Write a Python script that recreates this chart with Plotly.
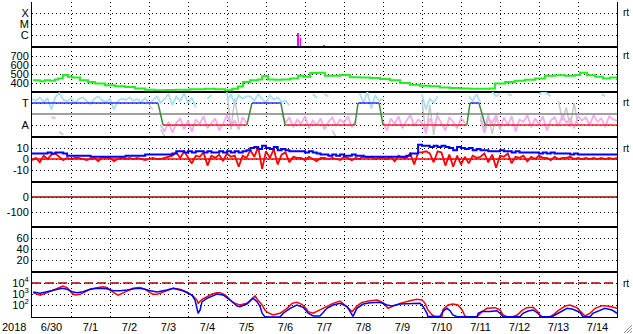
import plotly.graph_objects as go

# ---------------- data (x in days since 2018-06-30 00:00) ----------------
day_labels = ["6/30", "7/1", "7/2", "7/3", "7/4", "7/5", "7/6", "7/7",
              "7/8", "7/9", "7/10", "7/11", "7/12", "7/13", "7/14"]
year_label = "2018"

# X-ray flux level (C=1, M=2, X=3)
xray_t = [6.81, 6.84, 6.88, 7.18, 7.49, 7.90, 7.95, 8.10]
xray_lvl = [1.15, 1.15, 0.70, 0.02, 0.10, 0.03, 0.03, 0.03]

# solar wind speed
sw_t = [0.03, 0.21, 0.33, 0.46, 0.59, 0.67, 0.79, 0.92, 1.03, 1.23,
        1.44, 1.62, 1.87, 2.13, 2.38, 2.64, 2.90, 3.15, 3.41, 3.67,
        4.05, 4.44, 4.69, 4.95, 5.13, 5.28, 5.41, 5.59, 5.79, 5.90,
        6.05, 6.23, 6.41, 6.62, 6.82, 6.95, 7.13, 7.33, 7.51, 7.72,
        7.90, 8.15, 8.41, 8.67, 8.92, 9.18, 9.44, 9.69, 9.95, 10.21,
        10.46, 10.72, 10.97, 11.23, 11.49, 11.74, 11.87, 12.13, 12.38, 12.64,
        12.90, 13.15, 13.41, 13.67, 13.92, 14.05, 14.23, 14.44, 14.64, 14.82, 15.00]
sw_v = [430, 420, 430, 425, 440, 450, 490, 470, 460, 430,
        410, 395, 375, 365, 355, 340, 325, 320, 322, 325,
        330, 335, 330, 320, 335, 360, 410, 430, 440, 475,
        440, 435, 440, 450, 480, 470, 510, 515, 480, 480,
        490, 465, 460, 455, 445, 430, 400, 380, 370, 365,
        350, 345, 340, 335, 335, 340, 395, 410, 425, 435,
        450, 480, 485, 480, 490, 515, 485, 470, 450, 460, 430]

# 0.1-day sampled series
grid_t = [round(i * 0.1, 1) for i in range(151)]

# T/A panel (T=100, A=0)
lb = ([118, 110, 125, 105, 120, 70, 128, 145, 115, 108, 122, 100, 118, 126, 110, 95, 120, 130,
       112, 105, 118, 70, 108, 120, 114, 126, 110, 118, 104, 122, 96, 115, 130]
      + [100, 120, 140, 90, 130, 110, 145, 100, 125, 80, None, None, 120, 135, None, None, None,
         110, 140, 95, 135, 120, 130]
      + [130, 110, 140, 120, 100, 135, 115, 125, 105]
      + [110, 90, None, None, None, None, None, 140, 125, None, 140, 130, None, None, None, None,
         None, None, None]
      + [145, 100, 150, 75, 135, 110]
      + [120, None, None, None, None, None, None, None, None, None, 140, 70, 120, 100, 130, None,
         None, None, None, None, None, None]
      + [130, 110, 140, 100]
      + [None, None, 150, 130, 145, None, 140, 135, None, None, None, None, None, None, 140, 150,
         145, 130, None, None, None, None, None, None, None, None, None, None, None, None, 140, 130,
         None, None, None])
pk = ([None] * 5 + [36, 30] + [None] * 26
      + [0, -30, 15, -35, 10, 30, -20, 20, -30, 25, 5, 40, -15, 10, 30, -25, 5, 45, -5, 20, -20, 35, 10]
      + [None] * 9
      + [10, 35, -10, 25, 5, 40, -15, 20, 0, 30, -20, 15, 35, -5, 25, 10, 40, -10, 20]
      + [None] * 6
      + [15, -25, 30, 5, 40, -15, 20, 45, -5, 25, 10, -35, 30, -10, 40, 5, -25, 35, 15, -15, 30, 10]
      + [None, None, None, 25]
      + [-35, 30, 10, 45, -20, 35, 0, 40, -30, 25, 15, 45, -10, 30, 5, 40, -25, 20, 35, -5,
         45, 10, 30, -15, 40, 20, 35, 0, 45, 15, 30, -10, 40, 25, 20])
gy_t = [0.7, 0.8, None, 3.0, 3.1, None, 3.3, 3.4, None, 5.0, 5.1, 5.2, 5.3, None,
        6.4, 6.5, None, 7.7, 7.8, None, 10.0, 10.1, 10.2, 10.3, 10.4, None,
        11.5, 11.6, 11.7, 11.8, 11.9, 12.0, None, 13.5, 13.6, 13.7, 13.8, 13.9, 14.0]
gy_v = [-30, -45, None, 90, 70, None, -20, -50, None, 150, -20, 120, 10, None,
        55, 10, None, -25, -55, None, 110, -40, 90, -45, 60, None,
        40, -20, 50, -40, 30, -10, None, 110, 20, 80, -10, 100, 0]
state_t = [0, 3.23, 3.36, 5.51, 5.64, 6.38, 6.49, 8.28, 8.36, 8.90, 9.0, 11.15, 11.23, 11.46, 11.62, 15.0]
state_v = [100, 100, 0, 0, 100, 100, 0, 0, 100, 100, 0, 0, 100, 100, 0, 0]

# IMF Bz (red) and Bt (blue), nT
bz = ([-1, 1, -3, 3, 0, 4, 5, 2, -1, 1, 0, 1, 1, 0, -1, 0, 1, -2, 2, 1, 1, -2, 0, 1, 0, 1, 0, 1, 0, -1, 0, 1, 0]
      + [0, 1, 2, 3, 6, 1, 7, 2, -4, 3, 2, 6, -6, 3, 1, 4, -2, 5, 2, 3, -7, 3, 1]
      + [8, 2, 11, -9, 7, 1, 9, -5, 4]
      + [6, -3, 2, 1, 1, -1, 2, 0, -2, 1, 1, 0, 1, 0, -1, 2, 1, -1, 1]
      + [0, 3, 1, 2, 0, 1]
      + [1, 0, 2, -2, 3, 1, 1, 5, -5, 6, 6, 7, 5, -3, 7, 6, -6, 4, -7, 3, -5, 2]
      + [-4, 3, 1, 2, 5, -3, 4, -8, 3, 2, 5, -4, 2, 1, 3, -2, 2, 0, 3, 1,
         1, -1, 2, 0, 1, 1, 2, 0, 1, 0, 1, 0, 1, 0, 1, 0, 1, 0, 1])
bt = ([5, 5, 5, 5, 6, 5, 6, 6, 5, 3, 3, 3, 3, 3, 3, 2, 2, 2, 2, 2, 2, 2, 2, 2, 3, 3, 3, 3, 3, 4, 4, 4, 4]
      + [4, 4, 4, 5, 7, 7, 6, 7, 6, 7, 7, 6, 7, 6, 6, 7, 6, 7, 6, 7, 6, 7, 8]
      + [10, 11, 9, 12, 10, 9, 11, 8, 9]
      + [8, 7, 7, 7, 7, 6, 7, 6, 5, 4, 4, 3, 4, 3, 4, 3, 3, 4, 3]
      + [3, 2, 2, 2, 2, 2]
      + [2, 2, 2, 2, 2, 2, 3, 5, 5, 13, 12, 12, 11, 12, 11, 12, 11, 10, 8, 11, 10, 9]
      + [10, 8, 9, 8, 8, 7, 7, 7, 8, 7, 7, 6, 7, 6, 6, 6, 6, 6, 5, 6,
         5, 6, 5, 5, 5, 5, 4, 5, 4, 4, 4, 4, 4, 4, 4, 4, 4, 4, 4])

# electron flux (log10)
er_t = [0.03, 0.21, 0.38, 0.54, 0.72, 0.79, 0.90, 1.03, 1.10, 1.23,
        1.36, 1.49, 1.67, 1.82, 1.92, 2.00, 2.13, 2.21, 2.31, 2.44,
        2.59, 2.77, 2.90, 3.03, 3.10, 3.21, 3.33, 3.46, 3.62, 3.79,
        3.97, 4.13, 4.23, 4.26, 4.36, 4.49, 4.62, 4.74, 4.82, 4.95,
        5.03, 5.13, 5.21, 5.33, 5.51, 5.64, 5.72, 5.79, 5.90, 5.97,
        6.05, 6.18, 6.36, 6.54, 6.67, 6.79, 6.92, 7.05, 7.08, 7.21,
        7.38, 7.56, 7.72, 7.90, 7.97, 8.10, 8.21, 8.33, 8.46, 8.67,
        8.85, 9.00, 9.13, 9.26, 9.44, 9.69, 9.87, 10.00, 10.08, 10.15,
        10.26, 10.33, 10.51, 10.54, 10.67, 10.79, 10.92, 11.03, 11.10, 11.15,
        11.41, 11.54, 11.67, 11.87, 12.00, 12.08, 12.18, 12.33, 12.44, 12.56,
        12.69, 12.85, 12.97, 13.03, 13.10, 13.28, 13.36, 13.49, 13.67, 13.79,
        13.97, 14.10, 14.18, 14.31, 14.44, 14.62, 14.77, 14.90, 15.00]
er_v = [3.10, 2.90, 3.10, 3.36, 3.66, 3.73, 3.58, 3.06, 2.91, 2.97,
        3.20, 3.43, 3.57, 3.66, 3.60, 3.36, 3.06, 2.90, 3.06, 3.27,
        3.52, 3.58, 3.42, 3.12, 2.97, 2.97, 3.12, 3.30, 3.52, 3.43,
        3.20, 2.82, 2.45, 2.15, 2.52, 2.75, 3.00, 3.12, 3.12, 2.91,
        2.61, 2.30, 2.15, 2.00, 2.15, 2.52, 2.82, 2.45, 2.00, 1.55,
        1.30, 1.09, 1.25, 1.70, 2.15, 2.24, 2.06, 1.60, 1.40, 1.25,
        1.55, 1.90, 2.15, 2.36, 2.15, 1.70, 1.40, 1.90, 2.24, 2.39,
        2.45, 2.21, 1.70, 1.90, 2.15, 2.39, 2.52, 2.45, 2.15, 1.55,
        1.09, 0.95, 0.95, 1.60, 2.00, 2.10, 2.00, 1.55, 1.00, 0.93,
        0.93, 1.40, 1.70, 1.76, 1.55, 1.09, 0.93, 0.93, 1.09, 1.48,
        1.76, 1.79, 1.40, 0.95, 0.93, 0.93, 1.09, 1.48, 1.90, 2.00,
        1.76, 1.25, 1.00, 1.25, 1.70, 1.94, 1.90, 1.79, 1.70]
eb_t = [0.03, 0.21, 0.38, 0.64, 0.77, 0.90, 1.03, 1.15, 1.31, 1.49,
        1.67, 1.92, 2.08, 2.26, 2.44, 2.69, 2.85, 3.03, 3.21, 3.46,
        3.62, 3.87, 4.10, 4.18, 4.23, 4.26, 4.31, 4.36, 4.49, 4.74,
        4.90, 5.08, 5.26, 5.33, 5.51, 5.67, 5.77, 5.85, 5.90, 5.97,
        6.05, 6.36, 6.44, 6.62, 6.79, 6.95, 7.05, 7.08, 7.21, 7.38,
        7.46, 7.56, 7.72, 7.90, 8.08, 8.15, 8.23, 8.33, 8.49, 8.67,
        8.92, 9.10, 9.23, 9.44, 9.69, 9.95, 10.03, 10.13, 10.15, 10.46,
        10.54, 10.64, 10.72, 10.79, 10.90, 11.41, 11.44, 11.54, 11.74, 11.92,
        12.00, 12.08, 12.51, 12.59, 12.72, 12.85, 12.97, 13.08, 13.33, 13.41,
        13.54, 13.72, 13.87, 14.05, 14.13, 14.31, 14.38, 14.56, 14.69, 14.87, 15.00]
eb_v = [3.18, 3.06, 3.20, 3.43, 3.52, 3.43, 3.21, 3.12, 3.20, 3.43,
        3.52, 3.48, 3.30, 3.30, 3.36, 3.52, 3.48, 3.30, 3.18, 3.36,
        3.52, 3.30, 2.91, 2.45, 1.85, 1.25, 1.55, 2.30, 2.61, 3.00,
        2.91, 2.45, 1.90, 1.85, 2.09, 2.61, 2.30, 1.85, 1.25, 0.94,
        0.91, 0.91, 1.25, 1.70, 2.00, 1.79, 1.40, 1.25, 1.00, 1.00,
        1.30, 1.70, 2.00, 2.15, 1.85, 1.40, 0.97, 1.70, 2.09, 2.21,
        2.24, 2.00, 1.90, 2.09, 2.15, 2.15, 1.85, 1.25, 0.95, 0.95,
        1.45, 1.70, 1.48, 1.09, 0.93, 0.93, 1.25, 1.40, 1.40, 1.48,
        1.25, 0.93, 0.93, 1.25, 1.45, 1.55, 1.25, 0.93, 0.93, 1.09,
        1.40, 1.70, 1.61, 1.33, 0.93, 0.93, 1.25, 1.55, 1.70, 1.55, 1.25]

# ---------------- layout geometry ----------------
W, H = 633, 334
ML, MR, MT, MB = 32, 16, 2, 17
PH = 45
PLOT_H = H - MT - MB
FONT = "Liberation Sans, Arial, sans-serif"

def dom(k):
    top = MT + PH * k
    bot = top + PH
    return [(H - MB - bot) / PLOT_H, (H - MB - top) / PLOT_H]

panels = [
    dict(range=[-0.09, 4.0], tickvals=[1, 2, 3], ticktext=["C", "M", "X"]),
    dict(range=[300, 800], tickvals=[400, 500, 600, 700], ticktext=["400", "500", "600", "700"]),
    dict(range=[-54.5, 150], tickvals=[0, 100], ticktext=["A", "T"]),
    dict(range=[-20.9, 20], tickvals=[-10, 0, 10], ticktext=["-10", "0", "10"]),
    dict(range=[-200, 100], tickvals=[-100, 0], ticktext=["-100", "0"]),
    dict(range=[-1.82, 80], tickvals=[20, 40, 60], ticktext=["20", "40", "60"]),
    dict(range=[0.909, 5], tickvals=[2, 3, 4],
         ticktext=["10<sup>2</sup>", "10<sup>3</sup>", "10<sup>4</sup>"]),
]

fig = go.Figure()

def ax(k):
    return ("x" if k == 0 else f"x{k+1}"), ("y" if k == 0 else f"y{k+1}")

# panel 1: X-ray
xa, ya = ax(0)
fig.add_trace(go.Bar(x=xray_t, y=[v - panels[0]["range"][0] for v in xray_lvl],
                     base=panels[0]["range"][0], width=0.035,
                     marker=dict(color="#ff00ff", line=dict(width=0)), xaxis=xa, yaxis=ya))

# panel 2: solar wind speed
xa, ya = ax(1)
fig.add_trace(go.Scatter(x=sw_t, y=sw_v, mode="lines", line=dict(color="#22ee22", width=2, shape="hv"),
                         xaxis=xa, yaxis=ya))

# panel 3
xa, ya = ax(2)
fig.add_trace(go.Scatter(x=gy_t, y=gy_v, mode="lines", line=dict(color="#c8c8c8", width=1.5),
                         connectgaps=False, xaxis=xa, yaxis=ya))
fig.add_trace(go.Scatter(x=grid_t, y=lb, mode="lines", line=dict(color="#a8e0f2", width=1.8),
                         connectgaps=False, xaxis=xa, yaxis=ya))
fig.add_trace(go.Scatter(x=grid_t, y=pk, mode="lines", line=dict(color="#f4aaf4", width=1.8),
                         connectgaps=False, xaxis=xa, yaxis=ya))
fig.add_trace(go.Scatter(x=[0, 15], y=[50, 50], mode="lines", line=dict(color="#808080", width=1.5),
                         xaxis=xa, yaxis=ya))
for i in range(len(state_t) - 1):
    a, b = state_v[i], state_v[i + 1]
    col = "#3030ff" if (a == 100 and b == 100) else ("#ff2020" if (a == 0 and b == 0) else "#3c8c3c")
    fig.add_trace(go.Scatter(x=state_t[i:i + 2], y=state_v[i:i + 2], mode="lines",
                             line=dict(color=col, width=1.5), xaxis=xa, yaxis=ya))

# panel 4
xa, ya = ax(3)
fig.add_trace(go.Scatter(x=[0, 15], y=[0, 0], mode="lines", line=dict(color="#ff0000", width=1.5),
                         xaxis=xa, yaxis=ya))
fig.add_trace(go.Scatter(x=grid_t, y=bz, mode="lines", line=dict(color="#ff0000", width=1.8),
                         xaxis=xa, yaxis=ya))
fig.add_trace(go.Scatter(x=grid_t, y=bt, mode="lines", line=dict(color="#0000ff", width=2, shape="hv"),
                         xaxis=xa, yaxis=ya))

# panel 5
xa, ya = ax(4)
fig.add_trace(go.Scatter(x=[0, 15], y=[0, 0], mode="lines", line=dict(color="#a00000", width=1.5),
                         xaxis=xa, yaxis=ya))

# panel 6 (empty panel)
xa, ya = ax(5)
fig.add_trace(go.Scatter(x=[0, 15], y=[None, None], mode="lines", xaxis=xa, yaxis=ya))

# panel 7: electrons
xa, ya = ax(6)
fig.add_trace(go.Scatter(x=[0, 15], y=[4, 4], mode="lines",
                         line=dict(color="#aa0000", width=1.5, dash="9px,4px"), xaxis=xa, yaxis=ya))
fig.add_trace(go.Scatter(x=er_t, y=er_v, mode="lines", line=dict(color="#ff0000", width=1.5),
                         xaxis=xa, yaxis=ya))
fig.add_trace(go.Scatter(x=eb_t, y=eb_v, mode="lines", line=dict(color="#0000ff", width=1.5),
                         xaxis=xa, yaxis=ya))

# axes
layout = {}
mid_ticks = [i + 0.5 for i in range(15)]
for k in range(7):
    xkey = "xaxis" if k == 0 else f"xaxis{k+1}"
    ykey = "yaxis" if k == 0 else f"yaxis{k+1}"
    layout[xkey] = dict(
        domain=[0, 1], anchor=("y" if k == 0 else f"y{k+1}"), range=[0, 15],
        showline=True, linecolor="black", linewidth=1, mirror=(k != 0),
        tickmode="array", tickvals=mid_ticks, ticktext=day_labels,
        showticklabels=(k == 6), ticks="", showgrid=False, zeroline=False,
        minor=dict(tickmode="array", tickvals=list(range(1, 15)), showgrid=True,
                   griddash="1px,3px", gridcolor="black", gridwidth=1, ticks=""),
        tickfont=dict(family=FONT, size=11, color="black"), fixedrange=True,
    )
    if k > 0:
        layout[xkey]["matches"] = "x"
    p = panels[k]
    layout[ykey] = dict(
        domain=dom(k), anchor=("x" if k == 0 else f"x{k+1}"), range=p["range"],
        tickmode="array", tickvals=p["tickvals"], ticktext=p["ticktext"],
        showline=True, linecolor="black", linewidth=1, mirror=True,
        showgrid=True, griddash="1px,3px", gridcolor="black", gridwidth=1,
        zeroline=False, ticks="", fixedrange=True,
        tickfont=dict(family=FONT, size=11, color="black"),
    )

annotations = [dict(text=year_label, xref="paper", yref="paper", x=-0.007, y=0,
                    xanchor="right", yanchor="top", yshift=-2, showarrow=False,
                    font=dict(family=FONT, size=11, color="black"))]
for py in [12, 56, 103, 148, 283]:
    annotations.append(dict(text="rt", xref="paper", yref="paper",
                            x=(621 - ML) / (W - ML - MR), y=(H - MB - py) / PLOT_H,
                            xanchor="left", yanchor="middle", showarrow=False,
                            font=dict(family=FONT, size=10, color="black")))

shapes = []
for off in [0, 3, 6]:
    x0 = (W - 1 - ML) / (W - ML - MR)
    shapes.append(dict(type="line", xref="paper", yref="paper",
                       x0=(W - 9 + off - ML) / (W - ML - MR), y0=(H - MB - (H - 1)) / PLOT_H,
                       x1=x0, y1=(H - MB - (H - 9 + off)) / PLOT_H,
                       line=dict(color="#909090", width=1)))

fig.update_layout(
    **layout,
    width=W, height=H,
    margin=dict(l=ML, r=MR, t=MT, b=MB, pad=0),
    paper_bgcolor="white", plot_bgcolor="white",
    showlegend=False, hovermode=False, bargap=0,
    annotations=annotations, shapes=shapes,
    font=dict(family=FONT, size=11, color="black"),
)

fig.write_html("out.html", config={"displayModeBar": False, "staticPlot": True})
